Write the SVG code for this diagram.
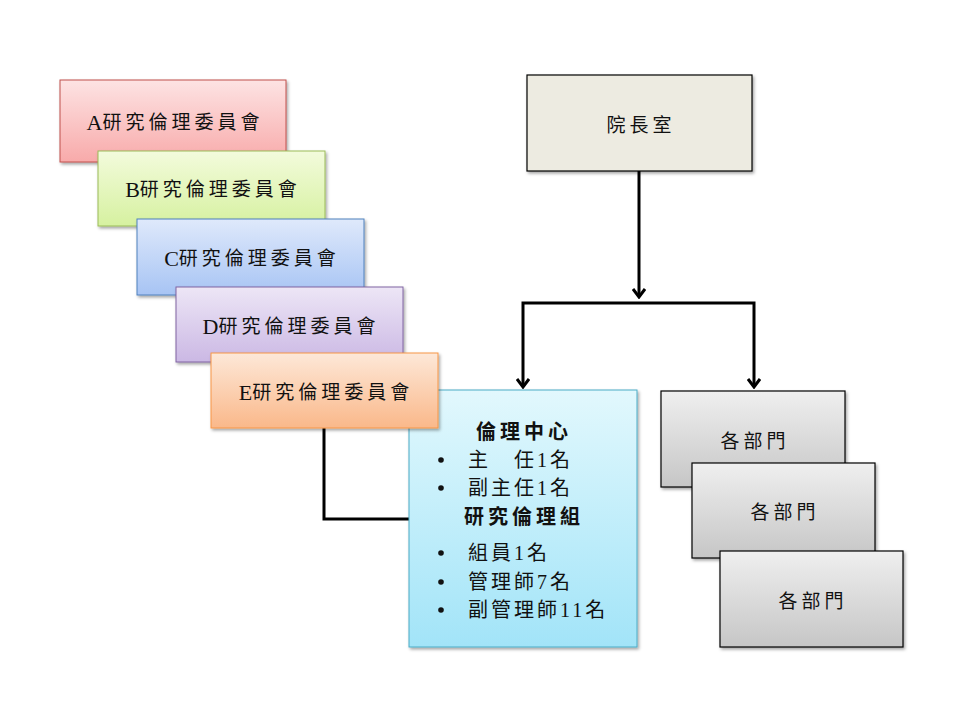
<svg xmlns="http://www.w3.org/2000/svg" width="960" height="720" viewBox="0 0 960 720">
<style>
text{font-family:"Liberation Serif","Noto Sans CJK TC",serif;fill:#111;}
.lbl{font-size:19px;letter-spacing:4px;text-anchor:middle;dominant-baseline:central;}
.lat{font-size:22px;letter-spacing:0;}
.hd{font-size:20px;font-weight:bold;letter-spacing:4px;text-anchor:middle;dominant-baseline:central;}
.it{font-size:20px;letter-spacing:3px;dominant-baseline:central;}
.bul{fill:#111;}
.con{fill:none;stroke:#000;stroke-width:3;}
</style>
<defs>
<linearGradient id="gA" x1="0" y1="0" x2="0" y2="1"><stop offset="0" stop-color="#fde3e3"/><stop offset="1" stop-color="#f8aaaa"/></linearGradient>
<linearGradient id="gB" x1="0" y1="0" x2="0" y2="1"><stop offset="0" stop-color="#f3fbdc"/><stop offset="1" stop-color="#d6f1a0"/></linearGradient>
<linearGradient id="gC" x1="0" y1="0" x2="0" y2="1"><stop offset="0" stop-color="#dfe9fb"/><stop offset="1" stop-color="#a7c4f4"/></linearGradient>
<linearGradient id="gD" x1="0" y1="0" x2="0" y2="1"><stop offset="0" stop-color="#ede6f6"/><stop offset="1" stop-color="#cbb8e4"/></linearGradient>
<linearGradient id="gE" x1="0" y1="0" x2="0" y2="1"><stop offset="0" stop-color="#fde8d8"/><stop offset="1" stop-color="#fab88a"/></linearGradient>
<linearGradient id="gCy" x1="0" y1="0" x2="0" y2="1"><stop offset="0" stop-color="#e2f8fd"/><stop offset="1" stop-color="#a2e4f8"/></linearGradient>
<linearGradient id="gG" x1="0" y1="0" x2="0" y2="1"><stop offset="0" stop-color="#efefef"/><stop offset="1" stop-color="#c6c6c6"/></linearGradient>
<filter id="sh" x="-10%" y="-10%" width="130%" height="130%"><feDropShadow dx="1.5" dy="2" stdDeviation="1.5" flood-color="#000" flood-opacity="0.35"/></filter>
<marker id="arr" viewBox="0 0 12 14" refX="10" refY="7" markerWidth="12" markerHeight="14" markerUnits="userSpaceOnUse" orient="auto-start-reverse">
<polyline points="2,1 10,7 2,13" fill="none" stroke="#000" stroke-width="3"/>
</marker>
</defs>
<g id="connectors">
<path class="con" d="M639,171 V297" marker-end="url(#arr)"/>
<path class="con" d="M523,387 V303 H754 V387" marker-start="url(#arr)" marker-end="url(#arr)"/>
<path class="con" d="M324,428 V519 H412"/>
</g>
<g id="president"><rect x="527" y="75" width="225" height="96" fill="#edebe1" stroke="#000" stroke-width="1.2" filter="url(#sh)"/><text class="lbl" x="641" y="125">院長室</text></g>
<g id="committeeA"><rect x="60" y="80" width="226" height="82" fill="url(#gA)" stroke="#c0504d" stroke-width="1" filter="url(#sh)"/><text class="lbl" x="175" y="122"><tspan class="lat">A</tspan>研究倫理委員會</text></g>
<g id="committeeB"><rect x="98" y="151" width="227" height="75" fill="url(#gB)" stroke="#9bbb59" stroke-width="1" filter="url(#sh)"/><text class="lbl" x="213" y="189"><tspan class="lat">B</tspan>研究倫理委員會</text></g>
<g id="committeeC"><rect x="137" y="219" width="227" height="76" fill="url(#gC)" stroke="#4f81bd" stroke-width="1" filter="url(#sh)"/><text class="lbl" x="252" y="258"><tspan class="lat">C</tspan>研究倫理委員會</text></g>
<g id="committeeD"><rect x="176" y="287" width="227" height="75" fill="url(#gD)" stroke="#8064a2" stroke-width="1" filter="url(#sh)"/><text class="lbl" x="291" y="326"><tspan class="lat">D</tspan>研究倫理委員會</text></g>
<g id="ethicsCenter"><rect x="409" y="390" width="228" height="257" fill="url(#gCy)" stroke="#4bacc6" stroke-width="1" filter="url(#sh)"/>
<text class="hd" x="524" y="432">倫理中心</text>
<circle class="bul" cx="441" cy="460" r="2.8"/><text class="it" x="468" y="460">主　任1名</text>
<circle class="bul" cx="441" cy="488" r="2.8"/><text class="it" x="468" y="488">副主任1名</text>
<text class="hd" x="524" y="517">研究倫理組</text>
<circle class="bul" cx="441" cy="553" r="2.8"/><text class="it" x="468" y="553">組員1名</text>
<circle class="bul" cx="441" cy="582" r="2.8"/><text class="it" x="468" y="582">管理師7名</text>
<circle class="bul" cx="441" cy="610" r="2.8"/><text class="it" x="468" y="610">副管理師11名</text>
</g>
<g id="committeeE"><rect x="211" y="353" width="227" height="75" fill="url(#gE)" stroke="#f79646" stroke-width="1" filter="url(#sh)"/><text class="lbl" x="326" y="392"><tspan class="lat">E</tspan>研究倫理委員會</text></g>
<g id="dept1"><rect x="661" y="391" width="184" height="96" fill="url(#gG)" stroke="#000" stroke-width="1.2" filter="url(#sh)"/><text class="lbl" x="755" y="441">各部門</text></g>
<g id="dept2"><rect x="692" y="463" width="183" height="95" fill="url(#gG)" stroke="#000" stroke-width="1.2" filter="url(#sh)"/><text class="lbl" x="785" y="512">各部門</text></g>
<g id="dept3"><rect x="720" y="551" width="183" height="96" fill="url(#gG)" stroke="#000" stroke-width="1.2" filter="url(#sh)"/><text class="lbl" x="813" y="601">各部門</text></g>
</svg>
